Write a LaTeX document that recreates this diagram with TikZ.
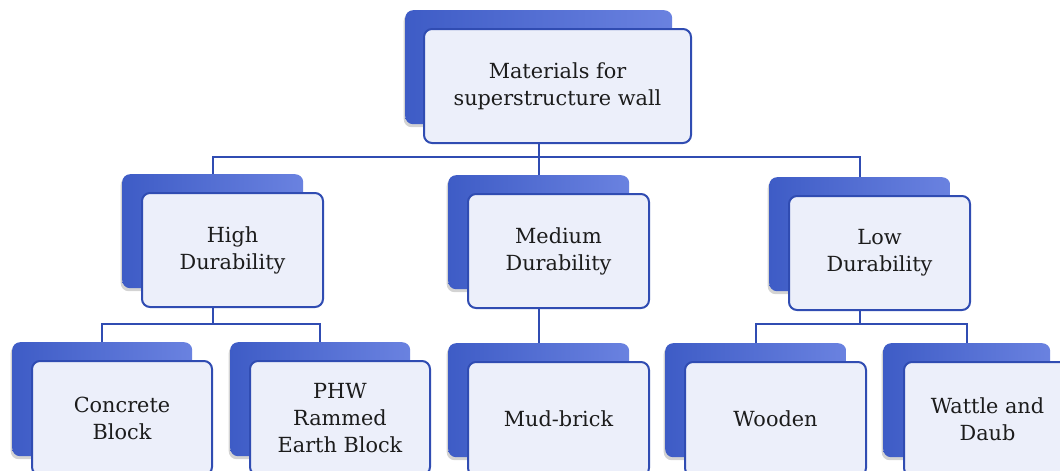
\documentclass[tikz,border=0pt]{standalone}
\usepackage{fontspec}
\setmainfont{DejaVu Serif}
\usetikzlibrary{shadows,calc}
\pgfdeclarelayer{bg}
\pgfsetlayers{bg,main}
\definecolor{shadeL}{RGB}{62,92,198}
\definecolor{shadeR}{RGB}{106,130,224}
\definecolor{edge}{RGB}{48,76,178}
\definecolor{inner}{RGB}{236,239,250}
\definecolor{ink}{RGB}{28,28,28}
\tikzset{
  back/.style={anchor=north west, rounded corners=8pt, left color=shadeL, right color=shadeR,
    draw=none, inner sep=0pt, minimum height=114pt,
    drop shadow={opacity=0.35, shadow xshift=-1.5pt, shadow yshift=-3pt}},
  card/.style={anchor=north west, rounded corners=8pt, fill=inner, draw=edge, line width=2pt,
    inner sep=0pt, minimum height=114pt, align=center, text=ink,
    font=\fontsize{20.8}{27}\selectfont},
  wire/.style={draw=edge, line width=1.8pt}
}
\begin{document}
\begin{tikzpicture}[x=1pt,y=-1pt]
\useasboundingbox (0,0) rectangle (1060,471);
\clip (0,0) rectangle (1060,471);

% root
\node[back, minimum width=267pt] (rootB) at (405,10) {};
\node[card, minimum width=267pt] (root) at (423,28) {Materials for\\superstructure wall};

% durability classes
\node[back, minimum width=181pt] (hdB) at (122,174) {};
\node[card, minimum width=181pt] (hd) at (141,192) {High\\Durability};
\node[back, minimum width=181pt] (mdB) at (448,175) {};
\node[card, minimum width=181pt] (md) at (467,193) {Medium\\Durability};
\node[back, minimum width=181pt] (ldB) at (769,177) {};
\node[card, minimum width=181pt] (ld) at (788,195) {Low\\Durability};

% wall materials
\node[back, minimum width=180pt] (cbB) at (12,342) {};
\node[card, minimum width=180pt] (cb) at (31,360) {Concrete\\Block};
\node[back, minimum width=180pt] (prB) at (230,342) {};
\node[card, minimum width=180pt] (pr) at (249,360) {PHW\\Rammed\\Earth Block};
\node[back, minimum width=181pt] (mbB) at (448,343) {};
\node[card, minimum width=181pt] (mb) at (467,361) {Mud-brick};
\node[back, minimum width=181pt] (wdB) at (665,343) {};
\node[card, minimum width=181pt] (wd) at (684,361) {Wooden};
\node[back, minimum width=167pt] (wbB) at (883,343) {};
\node[card, minimum width=167pt] (wb) at (903,361) {Wattle and\\Daub};

% connectors, kept behind the boxes
\coordinate (busA) at (0,157);
\coordinate (busB) at (0,324);
\begin{pgfonlayer}{bg}
  \draw[wire] (rootB.center) |- (busA -| hdB.center) -- (hdB.center);
  \draw[wire] (rootB.center) |- (busA -| ldB.center) -- (ldB.center);
  \draw[wire] (rootB.center) -- (mdB.center);
  \draw[wire] (hdB.center) |- (busB -| cbB.center) -- (cbB.center);
  \draw[wire] (hdB.center) |- (busB -| prB.center) -- (prB.center);
  \draw[wire] (mdB.center) -- (mbB.center);
  \draw[wire] (ldB.center) |- (busB -| wdB.center) -- (wdB.center);
  \draw[wire] (ldB.center) |- (busB -| wbB.center) -- (wbB.center);
\end{pgfonlayer}
\end{tikzpicture}
\end{document}
